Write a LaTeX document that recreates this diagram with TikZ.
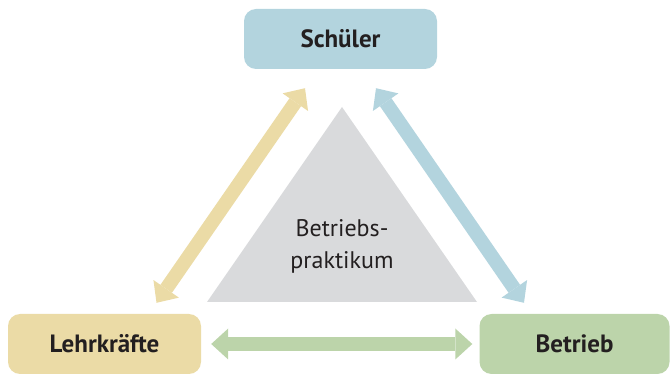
\documentclass[tikz,border=0pt]{standalone}
\usepackage{fontspec}
\setmainfont{PT Sans}
\usetikzlibrary{arrows.meta,calc}
\definecolor{schuelerblue}{RGB}{179,212,222}
\definecolor{lehrgelb}{RGB}{235,219,166}
\definecolor{betriebgruen}{RGB}{188,212,170}
\definecolor{praxisgrau}{RGB}{217,218,220}
\definecolor{textdunkel}{RGB}{35,31,32}

\begin{document}
\begin{tikzpicture}[x=1pt,y=-1pt,
    box/.style={rounded corners=12pt, minimum width=193pt, minimum height=60pt,
      inner sep=0pt, text=textdunkel, font=\fontsize{25}{28}\selectfont\bfseries},
    fatarrow/.style={line width=14pt,
      {Triangle[width=31pt,length=17pt,line width=0pt]}-{Triangle[width=31pt,length=17pt,line width=0pt]}}]
            \useasboundingbox (0,0) rectangle (670,374);
            \fill [praxisgrau] (342,107) -- (477,302) -- (207,302) -- cycle;
            \node [align=center, text=textdunkel, font=\fontsize{24}{32}\selectfont] (praktikum) at (342,246) {Betriebs-\\praktikum};
            \node [box, fill=schuelerblue] (schueler) at (340.5,39) {Schüler};
            \node [box, fill=lehrgelb] (lehrer) at (104.5,344) {Lehrkräfte};
            \node [box, fill=betriebgruen, minimum width=190pt] (betrieb) at (574.5,344) {Betrieb};
            \draw [fatarrow, lehrgelb] ($(lehrer.north)+(52,-11)$) -- ($(schueler.south)+(-35.5,19)$);
            \draw [fatarrow, schuelerblue] ($(schueler.south)+(35.5,19)$) -- ($(betrieb.north)+(-50.5,-11)$);
            \draw [fatarrow, betriebgruen, shorten <=10pt, shorten >=7pt] (lehrer.east) -- (betrieb.west);
\end{tikzpicture}
\end{document}
